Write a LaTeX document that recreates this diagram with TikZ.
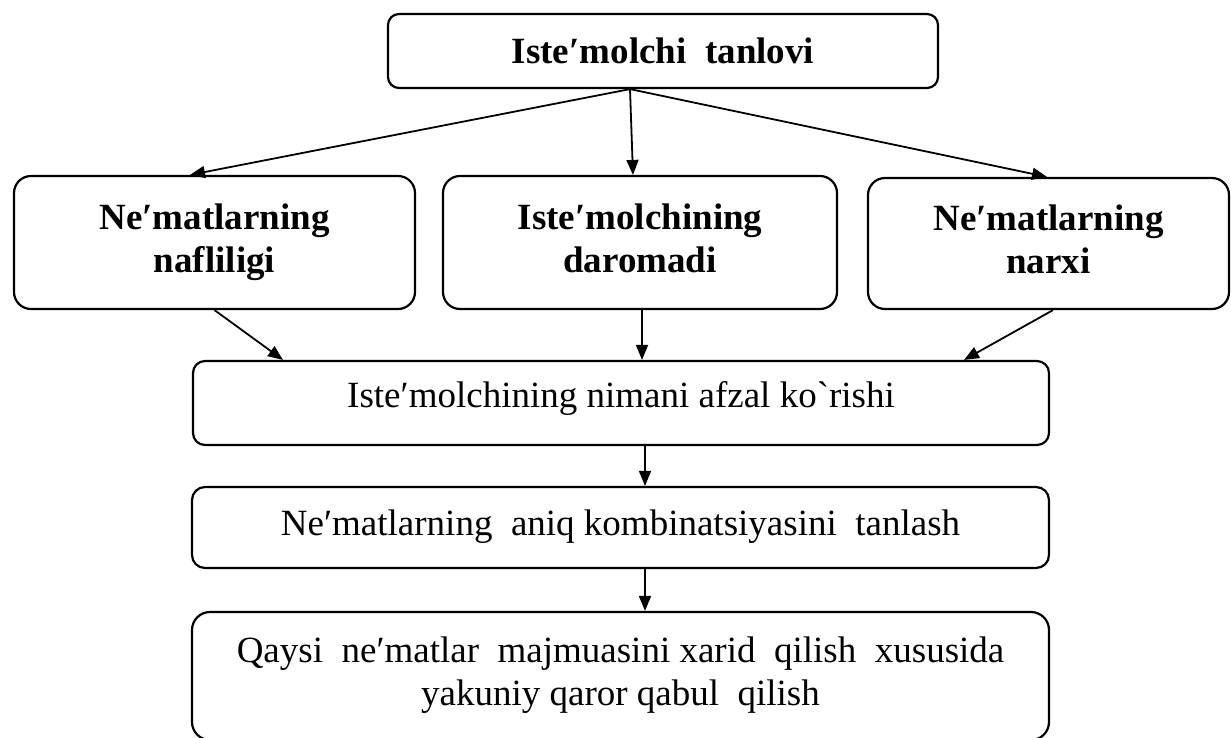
\documentclass[tikz,border=0pt]{standalone}
\usepackage{fontspec}
\setmainfont{Liberation Serif}[Ligatures=TeXOff]
\usetikzlibrary{arrows.meta}
\begin{document}
\begin{tikzpicture}[x=1pt,y=-1pt,
  box/.style={draw, line width=2.2pt, align=center, inner sep=0pt, font=\fontsize{37}{43}\selectfont},
  bbox/.style={box, font=\fontsize{37}{43}\selectfont\bfseries},
  two/.style={text depth=9pt},
  arr/.style={line width=1.8pt, -{Triangle[length=15pt,width=12pt]}}]
\useasboundingbox (0,0) rectangle (1231,737);
\node[bbox, rounded corners=11pt, minimum width=550pt, minimum height=74pt] (top) at (663,51) {Iste′molchi~ tanlovi};
\node[bbox, two, rounded corners=17pt, minimum width=401pt, minimum height=133pt] (A) at (214.5,242.5) {Ne′matlarning\\nafliligi};
\node[bbox, two, rounded corners=17pt, minimum width=394pt, minimum height=133pt] (B) at (640,242.5) {Iste′molchining\\daromadi};
\node[bbox, two, rounded corners=17pt, minimum width=361pt, minimum height=131pt] (C) at (1048.5,243.5) {Ne′matlarning\\narxi};
\node[box, text height=25pt, text depth=16pt, rounded corners=12pt, minimum width=856pt, minimum height=84pt] (M) at (621,403) {Iste′molchining nimani afzal ko`rishi};
\node[box, text height=25pt, text depth=10pt, rounded corners=13pt, minimum width=857pt, minimum height=81pt] (K) at (620.5,527.5) {Ne′matlarning~ aniq kombinatsiyasini~ tanlash};
\node[box, two, rounded corners=18pt, minimum width=857pt, minimum height=128pt] (Q) at (620.5,676) {Qaysi~ ne′matlar~ majmuasini xarid~ qilish~ xususida\\yakuniy qaror qabul~ qilish};
\draw[arr] ([xshift=-33pt]top.south) -- ([xshift=-24.5pt]A.north);
\draw[arr] ([xshift=-33pt]top.south) -- ([xshift=-7pt]B.north);
\draw[arr] ([xshift=-33pt]top.south) -- ([xshift=-1.5pt]C.north);
\draw[arr] (A.south) -- ([xshift=-338pt]M.north);
\draw[arr] ([xshift=2pt]B.south) -- ([xshift=21pt]M.north);
\draw[arr] ([xshift=4.5pt]C.south) -- ([xshift=343pt]M.north);
\draw[arr] ([xshift=24pt]M.south) -- ([xshift=24.5pt]K.north);
\draw[arr] ([xshift=24.5pt]K.south) -- ([xshift=24.5pt]Q.north);
\end{tikzpicture}
\end{document}
